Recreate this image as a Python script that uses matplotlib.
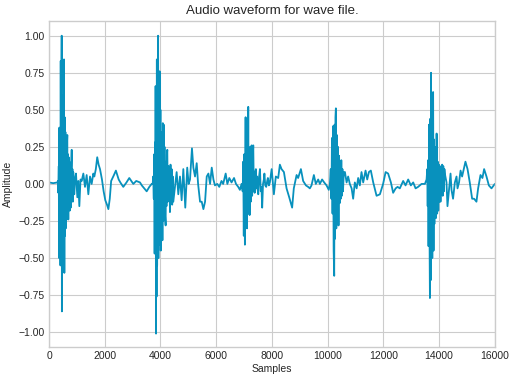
# Libraries
import matplotlib
matplotlib.use("Agg")
import matplotlib.pyplot as plt

# waveform points (sample index, amplitude)
lead_x = [0, 150, 300]
lead_y = [0.01, 0.005, 0.01]

burst1_x = [320, 335, 350, 362, 372, 385, 398, 410, 420, 432, 445, 455, 462, 472, 482,
            495, 505, 515, 525, 538, 550, 562, 575, 588, 600, 612, 625, 640, 656, 665,
            680, 692, 705, 718, 730, 745, 760, 778, 795, 814, 825, 840, 855, 870, 888,
            908, 935, 968, 1016, 1050, 1088, 1130, 1172, 1232, 1291, 1351, 1411, 1471,
            1530, 1590, 1626, 1680]
burst1_y = [0.02, -0.06, 0.12, -0.50, 0.38, -0.40, 0.30, -0.55, 0.83, -0.45, 0.60, 1.00,
            -0.86, 0.50, -0.55, 0.60, -0.48, 0.55, -0.58, 0.84, -0.60, 0.45, -0.35, 0.35,
            -0.30, 0.28, -0.24, 0.25, 0.33, -0.20, 0.20, -0.24, 0.18, -0.12, 0.15, -0.18,
            0.12, -0.16, 0.10, 0.23, -0.08, 0.10, -0.12, 0.08, -0.06, -0.07, 0.04, 0.07,
            -0.09, 0.02, -0.15, 0.03, 0.02, 0.07, -0.02, 0.06, -0.07, 0.05, 0.0, 0.07,
            0.05, 0.10]

quiet1_x = [1730, 1780, 1830, 1900, 1960, 2020, 2080, 2130, 2180, 2230, 2280, 2330, 2400,
            2450, 2500, 2560, 2665, 2780, 2880, 3025, 3130, 3265, 3330, 3420, 3505, 3600,
            3685, 3720]
quiet1_y = [0.18, 0.13, 0.10, 0.03, -0.05, -0.11, -0.14, -0.17, -0.10, 0.02, 0.04, 0.06,
            0.09, 0.06, 0.03, 0.01, -0.02, 0.01, 0.04, 0.0, 0.02, 0.01, -0.01, -0.03,
            -0.05, -0.02, 0.0, 0.0]

burst2_x = [3740, 3760, 3775, 3790, 3805, 3815, 3825, 3840, 3850, 3860, 3870, 3880, 3895,
            3905, 3915, 3925, 3940, 3955, 3970, 3985, 3998, 4010, 4025, 4040, 4055, 4070,
            4085, 4100, 4115, 4130, 4145, 4160, 4185, 4200, 4215, 4230, 4245, 4260, 4280,
            4300, 4320, 4340, 4360, 4380, 4400, 4420, 4440, 4460]
burst2_y = [0.05, -0.10, 0.20, -0.47, 0.28, -0.30, 0.66, -1.01, 0.50, -0.76, 0.84, -0.55,
            0.65, -0.40, 1.00, -0.50, 0.70, -0.35, 0.76, -0.41, 0.50, -0.45, 0.35, -0.34,
            0.30, -0.38, 0.41, -0.25, 0.40, -0.22, 0.25, -0.20, -0.28, 0.15, -0.15, 0.20,
            0.23, -0.12, 0.12, -0.10, 0.10, -0.19, 0.13, -0.08, 0.10, -0.14, 0.05, -0.12]

quiet2_x = [4520, 4580, 4640, 4700, 4760, 4820, 4890, 4960, 5010, 5060, 5130, 5180, 5240,
            5300, 5350, 5420, 5480, 5540, 5600, 5660, 5720, 5780, 5840, 5900, 5955, 6040,
            6110, 6190, 6250, 6340, 6400, 6470, 6550, 6640, 6710, 6790, 6850, 6910]
quiet2_y = [-0.02, 0.08, -0.07, 0.05, -0.11, 0.10, -0.16, 0.11, 0.0, 0.03, 0.24, 0.11,
            0.05, 0.14, 0.0, -0.12, -0.12, -0.17, -0.12, 0.05, 0.07, 0.0, 0.11, 0.03,
            -0.01, 0.0, -0.02, 0.02, 0.0, 0.07, 0.0, 0.04, 0.01, 0.04, 0.0, -0.02, -0.04,
            0.0]

burst3_x = [6950, 6970, 6990, 7005, 7030, 7055, 7070, 7090, 7105, 7120, 7135, 7150, 7165,
            7185, 7200, 7220, 7240, 7270, 7290, 7310, 7330, 7350, 7365, 7380, 7400, 7425,
            7445, 7470, 7490, 7510, 7540, 7570, 7600, 7625, 7650, 7680, 7710, 7730, 7760,
            7795, 7830, 7855, 7890, 7925]
burst3_y = [-0.05, 0.15, -0.35, 0.20, -0.41, 0.45, -0.25, 0.30, -0.30, 0.42, -0.15, 0.52,
            -0.20, 0.20, -0.21, 0.25, -0.12, 0.26, -0.08, 0.15, 0.26, -0.05, 0.05, -0.06,
            0.08, 0.10, -0.03, 0.05, -0.04, -0.07, 0.05, 0.10, -0.05, -0.02, -0.16, 0.0,
            0.03, 0.07, -0.01, -0.02, 0.02, 0.04, -0.01, 0.01]

quiet3_x = [7990, 8070, 8140, 8225, 8285, 8345, 8430, 8525, 8620, 8725, 8785, 8885, 8940,
            9040, 9120, 9220, 9300, 9360, 9420, 9505, 9575, 9660, 9720, 9800, 9875, 9960,
            10040]
quiet3_y = [0.10, -0.07, 0.05, 0.04, 0.13, 0.10, 0.08, -0.03, -0.09, -0.16, -0.03, 0.06,
            0.04, 0.10, 0.02, -0.01, -0.02, -0.03, -0.01, 0.06, 0.0, 0.03, 0.0, 0.03, 0.01,
            -0.01, -0.04]

burst4_x = [10080, 10110, 10135, 10155, 10175, 10195, 10215, 10235, 10250, 10265, 10280,
            10295, 10310, 10330, 10350, 10370, 10390, 10410, 10430, 10450, 10470, 10490,
            10510, 10530, 10550, 10580]
burst4_y = [0.0, 0.10, -0.10, 0.31, -0.20, 0.39, -0.45, -0.62, 0.40, -0.37, 0.45, 0.51,
            -0.30, 0.33, -0.20, 0.25, -0.28, 0.19, -0.13, 0.15, -0.10, 0.16, -0.08, 0.10,
            -0.05, 0.08]

quiet4_x = [10620, 10680, 10735, 10795, 10860, 10915, 10975, 11040, 11095, 11155, 11215,
            11275, 11360, 11420, 11480, 11550, 11635, 11755, 11875, 11990, 12080, 12170,
            12270, 12350, 12440, 12510, 12590, 12710, 12795, 12890, 12985, 13070, 13155,
            13245, 13370, 13490, 13550]
quiet4_y = [0.08, 0.01, 0.05, 0.0, -0.03, -0.10, 0.01, -0.03, 0.04, -0.01, 0.08, 0.01,
            0.09, 0.03, 0.08, 0.09, 0.01, -0.08, -0.07, 0.0, 0.08, 0.07, 0.01, -0.06, -0.03,
            -0.02, -0.03, 0.02, -0.01, 0.03, -0.01, 0.01, -0.03, -0.02, 0.0, 0.0, 0.03]

burst5_x = [13575, 13590, 13605, 13620, 13640, 13655, 13670, 13685, 13695, 13710, 13725,
            13740, 13755, 13770, 13785, 13800, 13815, 13830, 13845, 13860, 13875, 13890,
            13910, 13930, 13950, 13970, 13990, 14010, 14030, 14050, 14070, 14090, 14110,
            14130, 14150, 14170, 14190, 14205]
burst5_y = [0.10, -0.15, 0.16, -0.42, 0.40, -0.30, -0.77, 0.44, -0.65, 0.75, -0.30, 0.55,
            -0.50, 0.40, 0.62, -0.45, 0.30, -0.27, 0.25, -0.15, 0.20, -0.23, 0.34, -0.20,
            0.15, -0.18, 0.13, -0.12, 0.12, -0.12, 0.10, -0.06, 0.13, -0.08, 0.12, -0.05,
            0.10, 0.07]

tail_x = [14265, 14300, 14360, 14410, 14445, 14500, 14565, 14625, 14660, 14715, 14770,
          14825, 14895, 14945, 15020, 15100, 15185, 15255, 15340, 15400, 15485, 15555,
          15615, 15700, 15785, 15880, 15960, 16000]
tail_y = [0.01, -0.15, -0.03, 0.07, -0.04, -0.10, 0.01, 0.05, -0.03, 0.01, 0.09, 0.05,
          0.11, 0.15, 0.10, 0.01, -0.10, -0.10, -0.12, -0.03, 0.06, 0.04, 0.10, 0.05,
          -0.01, -0.03, -0.01, 0.0]

samples = (lead_x + burst1_x + quiet1_x + burst2_x + quiet2_x + burst3_x + quiet3_x
           + burst4_x + quiet4_x + burst5_x + tail_x)
amplitude = (lead_y + burst1_y + quiet1_y + burst2_y + quiet2_y + burst3_y + quiet3_y
             + burst4_y + quiet4_y + burst5_y + tail_y)

# Plot
plt.style.use("seaborn-v0_8-whitegrid")
plt.rcParams["font.family"] = ["Liberation Sans", "DejaVu Sans"]

fig = plt.figure(figsize=(5.16, 3.80), dpi=100)
ax = fig.add_axes([0.095, 0.087, 0.864, 0.858])
ax.plot(samples, amplitude, color="#0891bd", linewidth=1.3)
ax.set_xlim(0, 16000)
ax.set_ylim(-1.1, 1.1)
ax.set_yticks([-1.0, -0.75, -0.5, -0.25, 0.0, 0.25, 0.5, 0.75, 1.0])
ax.set_xlabel("Samples", fontsize=7.5, labelpad=2)
ax.set_ylabel("Amplitude", fontsize=7.5, labelpad=4)
ax.set_title("Audio waveform for wave file.", fontsize=9.5, pad=5)
ax.tick_params(labelsize=7.5, pad=3)
for s in ax.spines.values():
    s.set_visible(True)
    s.set_color("#cccccc")
    s.set_linewidth(1.0)

fig.savefig("out.png", dpi=100)
